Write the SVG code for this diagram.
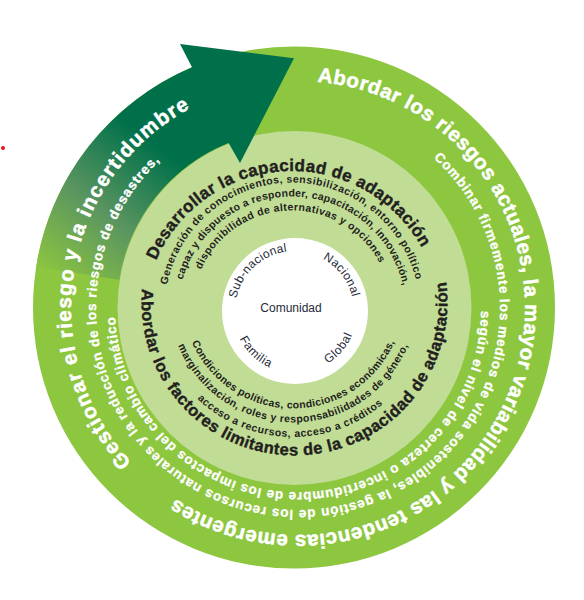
<svg xmlns="http://www.w3.org/2000/svg" width="584" height="600" viewBox="0 0 584 600">
<defs>
<linearGradient id="arrowGrad" gradientUnits="userSpaceOnUse" x1="45" y1="275" x2="150" y2="140">
<stop offset="0" stop-color="#8dc63f"/>
<stop offset="0.5" stop-color="#5a9560"/>
<stop offset="1" stop-color="#00704a"/>
</linearGradient>
<path id="pL1L" d="M131.5,462.2 A227,227 0 0 1 189.7,108.5"/>
<path id="pL1R" d="M317.4,81.8 A227,227 0 1 1 175.4,499.0"/>
<path id="pL2" d="M433.4,158.1 A202,202 0 1 1 159.4,161.1"/>
<path id="pL3" d="M481.0,310.9 A183,183 0 0 1 115.1,315.0"/>
<path id="pHT" d="M156.1,260.5 A148,148 0 0 1 421.4,247.2"/>
<path id="pS1" d="M167.0,284.9 A127.5,127.5 0 0 1 415.6,278.8"/>
<path id="pS2" d="M182.6,279.9 A113.5,113.5 0 0 1 402.7,284.9"/>
<path id="pS3" d="M201.0,269.7 A99.5,99.5 0 0 1 379.6,262.8"/>
<path id="pHB" d="M142.1,288.9 A153,153 0 1 0 446.1,282.0"/>
<path id="pB1" d="M191.8,342.3 A110.5,110.5 0 0 0 394.4,342.0"/>
<path id="pB2" d="M178.0,345.6 A124.5,124.5 0 0 0 408.0,345.6"/>
<path id="pB3" d="M197.3,398.8 A139,139 0 0 0 382.9,404.0"/>
<path id="pSub" d="M236.3,298.5 A60,60 0 0 1 287.0,251.5"/>
<path id="pNac" d="M322.8,259.0 A59,59 0 0 1 352.2,296.7"/>
<path id="pFam" d="M239.5,338.7 A62,62 0 0 0 269.5,367.5"/>
<path id="pGlo" d="M327.8,363.6 A62,62 0 0 0 352.1,335.1"/>
</defs>
<style>
.o1{font-family:"Liberation Sans",Arial,sans-serif;font-weight:bold;font-size:20.5px;fill:#ffffff;stroke:#ffffff;stroke-width:0.5px}
.o2{font-family:"Liberation Sans",Arial,sans-serif;font-weight:bold;font-size:13.5px;fill:#ffffff;stroke:#ffffff;stroke-width:0.3px}
.h{font-family:"Liberation Sans",Arial,sans-serif;font-weight:bold;font-size:17px;fill:#231f20;stroke:#231f20;stroke-width:0.4px}
.hb{font-family:"Liberation Sans",Arial,sans-serif;font-weight:bold;font-size:16.5px;fill:#231f20;stroke:#231f20;stroke-width:0.4px}
.s{font-family:"Liberation Sans",Arial,sans-serif;font-weight:bold;font-size:10.5px;fill:#231f20}
.i{font-family:"Liberation Sans",Arial,sans-serif;font-size:12px;fill:#262a3a}
</style>
<rect width="584" height="600" fill="#ffffff"/>
<circle id="red-dot" cx="3" cy="148" r="2" fill="#e3161b"/>
<g id="rings">
<circle id="outer-ring" cx="294" cy="307.5" r="261" fill="#8dc63f"/>
<circle id="middle-ring" cx="294.5" cy="308" r="177" fill="#c1dc95"/>
</g>
<g id="connectors">
<path id="arrow" d="M119.2,279.8 L36.2,266.7 A261,261 0 0 1 192.0,67.3 L180,44 L294,58.3 L240,163 L228.6,143 A177,177 0 0 0 119.2,279.8 Z" fill="url(#arrowGrad)"/>
</g>
<circle id="inner-circle" cx="295" cy="311" r="73" fill="#ffffff"/>
<g id="outer-texts">
<text class="o1"><textPath href="#pL1L" textLength="413" lengthAdjust="spacing">Gestionar el riesgo y la incertidumbre</textPath></text>
<text class="o1"><textPath href="#pL1R" textLength="823" lengthAdjust="spacing">Abordar los riesgos actuales, la mayor variabilidad y las tendencias emergentes</textPath></text>
<text class="o2"><textPath href="#pL2" textLength="968" lengthAdjust="spacing">Combinar firmemente los medios de vida sostenibles, la gestión de los recursos naturales y la reducción de los riesgos de desastres,</textPath></text>
<text class="o2"><textPath href="#pL3" textLength="565" lengthAdjust="spacing">según el nivel de certeza o incertidumbre de los impactos del cambio climático</textPath></text>
</g>
<g id="middle-texts">
<text class="h"><textPath href="#pHT" textLength="330" lengthAdjust="spacing">Desarrollar la capacidad de adaptación</textPath></text>
<text class="s"><textPath href="#pS1" textLength="344" lengthAdjust="spacing">Generación de conocimientos, sensibilización, entorno político</textPath></text>
<text class="s"><textPath href="#pS2" textLength="301" lengthAdjust="spacing">capaz y dispuesto a responder, capacitación, innovación,</textPath></text>
<text class="s"><textPath href="#pS3" textLength="222" lengthAdjust="spacing">disponibilidad de alternativas y opciones</textPath></text>
<text class="hb"><textPath href="#pHB" textLength="515" lengthAdjust="spacing">Abordar los factores limitantes de la capacidad de adaptación</textPath></text>
<text class="s"><textPath href="#pB1" textLength="256" lengthAdjust="spacing">Condiciones políticas, condiciones económicas,</textPath></text>
<text class="s"><textPath href="#pB2" textLength="293" lengthAdjust="spacing">marginalización, roles y responsabilidades de género,</textPath></text>
<text class="s"><textPath href="#pB3" textLength="203" lengthAdjust="spacing">acceso a recursos, acceso a créditos</textPath></text>
</g>
<g id="inner-texts">
<text class="i" x="291" y="311.5" text-anchor="middle">Comunidad</text>
<text class="i"><textPath href="#pSub" textLength="73.6" lengthAdjust="spacing">Sub-nacional</textPath></text>
<text class="i"><textPath href="#pNac" textLength="49.3" lengthAdjust="spacing">Nacional</textPath></text>
<text class="i"><textPath href="#pFam" textLength="42.4" lengthAdjust="spacing">Familia</textPath></text>
<text class="i"><textPath href="#pGlo" textLength="38.1" lengthAdjust="spacing">Global</textPath></text>
</g>
</svg>
